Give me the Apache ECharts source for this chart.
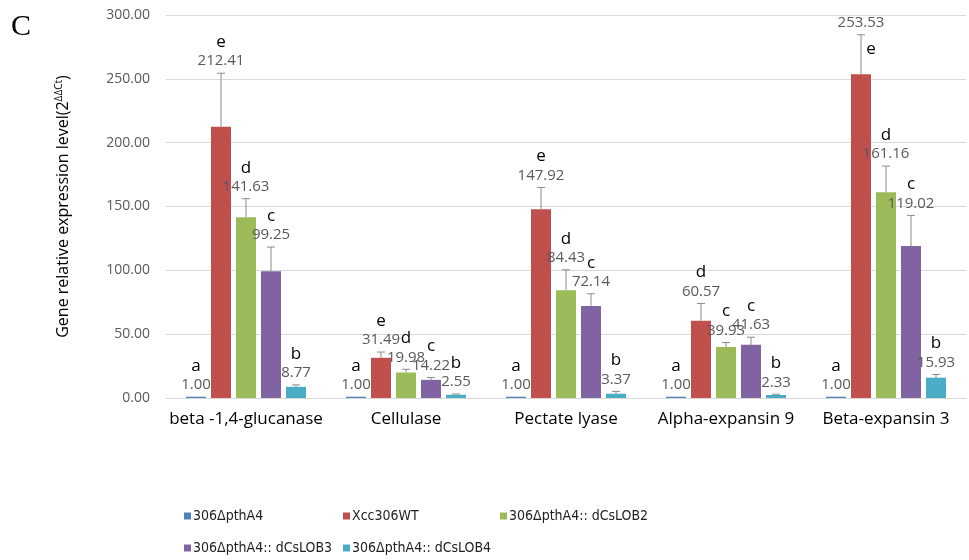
<!DOCTYPE html>
<html>
<head>
<meta charset="utf-8">
<script src="https://cdn.jsdelivr.net/npm/echarts@6/dist/echarts.min.js"></script>
<style>
html, body { margin: 0; padding: 0; background: #fff; }
#chart { width: 969px; height: 560px; }
</style>
</head>
<body>
<div id="chart"></div>
<script>
// genes on the x axis
var categories = ['beta -1,4-glucanase', 'Cellulase', 'Pectate lyase', 'Alpha-expansin 9', 'Beta-expansin 3'];
var strains = ['306\u0394pthA4', 'Xcc306WT', '306\u0394pthA4:: dCsLOB2', '306\u0394pthA4:: dCsLOB3', '306\u0394pthA4:: dCsLOB4'];
var yTicks = [0, 50, 100, 150, 200, 250, 300];

// mean values
var mean306 = [1.00, 1.00, 1.00, 1.00, 1.00];
var meanWT = [212.41, 31.49, 147.92, 60.57, 253.53];
var meanLOB2 = [141.63, 19.98, 84.43, 39.93, 161.16];
var meanLOB3 = [99.25, 14.22, 72.14, 41.63, 119.02];
var meanLOB4 = [8.77, 2.55, 3.37, 2.33, 15.93];

// upper error bars
var err306 = [0, 0, 0, 0, 0];
var errWT = [42, 4.5, 17, 13.5, 31];
var errLOB2 = [14.5, 2.5, 16, 3.5, 20.5];
var errLOB3 = [19, 1.8, 9.5, 6, 24];
var errLOB4 = [1.5, 0.6, 1.8, 0.6, 2.5];

// significance letters
var let306 = ['a', 'a', 'a', 'a', 'a'];
var letWT = ['e', 'e', 'e', 'd', 'e'];
var letLOB2 = ['d', 'd', 'd', 'c', 'd'];
var letLOB3 = ['c', 'c', 'c', 'c', 'c'];
var letLOB4 = ['b', 'b', 'b', 'b', 'b'];

var colors = ['#4F81BD', '#C0504D', '#9BBB59', '#8064A2', '#4BACC6'];
var means = [mean306, meanWT, meanLOB2, meanLOB3, meanLOB4];
var errs = [err306, errWT, errLOB2, errLOB3, errLOB4];
var letters = [let306, letWT, letLOB2, letLOB3, letLOB4];

var BAR_W = 20, BAR_STEP = 25;

var chart = echarts.init(document.getElementById('chart'));

var series = [];
strains.forEach(function (name, s) {
  series.push({
    name: name,
    type: 'bar',
    barWidth: BAR_W,
    barGap: '25%',
    itemStyle: { color: colors[s] },
    data: means[s]
  });
});
// error bars + labels
strains.forEach(function (name, s) {
  series.push({
    type: 'custom',
    z: 5,
    silent: true,
    data: categories.map(function (c, i) { return [i, means[s][i], errs[s][i]]; }),
    renderItem: function (params, api) {
      var i = api.value(0), m = api.value(1), e = api.value(2);
      var base = api.coord([i, m]);
      var top = api.coord([i, m + e]);
      var x = base[0] + (s - 2) * BAR_STEP;
      var children = [];
      if (e > 0) {
        children.push({ type: 'line', shape: { x1: x, y1: base[1], x2: x, y2: top[1] }, style: { stroke: '#8c8c8c', lineWidth: 1 } });
        children.push({ type: 'line', shape: { x1: x - 4, y1: top[1], x2: x + 4, y2: top[1] }, style: { stroke: '#8c8c8c', lineWidth: 1 } });
      }
      children.push({ type: 'text', style: { text: m.toFixed(2), x: x, y: top[1] - 12, align: 'center', verticalAlign: 'middle', fill: '#595959', font: '15px "Open Sans", sans-serif' } });
      // letter above the number, or beside the error bar when there's no room on top
      var ly = top[1] - 31, lx = x;
      if (ly < 20) { ly = top[1] + 14; lx = x + 10; }
      children.push({ type: 'text', style: { text: letters[s][params.dataIndex], x: lx, y: ly, align: 'center', verticalAlign: 'middle', fill: '#000', font: '17px "Open Sans", sans-serif' } });
      return { type: 'group', children: children };
    }
  });
});

var legendPos = [[179, 504], [338, 504], [495, 504], [179, 536], [338, 536]];
var legends = strains.map(function (name, s) {
  return {
    data: [name],
    left: legendPos[s][0],
    top: legendPos[s][1],
    icon: 'rect',
    itemWidth: 7,
    itemHeight: 7,
    itemGap: 2,
    selectedMode: false,
    textStyle: { fontFamily: '"DejaVu Sans Condensed", "Liberation Sans"', fontSize: 14, color: '#222', padding: [0, 0, 0, -3] }
  };
});

var option = {
  animation: false,
  textStyle: { fontFamily: 'Open Sans' },
  graphic: [{ type: 'text', left: 11, top: 12, style: { text: 'C', font: '30px "Liberation Serif"', fill: '#000' } }],
  legend: legends,
  grid: { left: 166, right: 3, top: 15, bottom: 162 },
  xAxis: {
    type: 'category',
    data: categories,
    axisTick: { show: false },
    axisLine: { lineStyle: { color: '#d9d9d9' } },
    axisLabel: { color: '#000', fontSize: 17, margin: 13, interval: 0 }
  },
  yAxis: {
    type: 'value',
    min: yTicks[0],
    max: yTicks[yTicks.length - 1],
    interval: 50,
    name: 'Gene relative expression level(2{s|\u0394\u0394Ct})',
    nameLocation: 'middle',
    nameGap: 94,
    nameTextStyle: {
      color: '#000', fontSize: 16,
      rich: { s: { fontSize: 10, verticalAlign: 'top', padding: [0, 0, 8, 0], color: '#000' } }
    },
    axisLine: { show: false },
    axisTick: { show: false },
    axisLabel: { color: '#595959', fontSize: 14, margin: 16, formatter: function (v) { return v.toFixed(2); } },
    splitLine: { lineStyle: { color: '#d9d9d9' } }
  },
  series: series
};
chart.setOption(option);
</script>
</body>
</html>
